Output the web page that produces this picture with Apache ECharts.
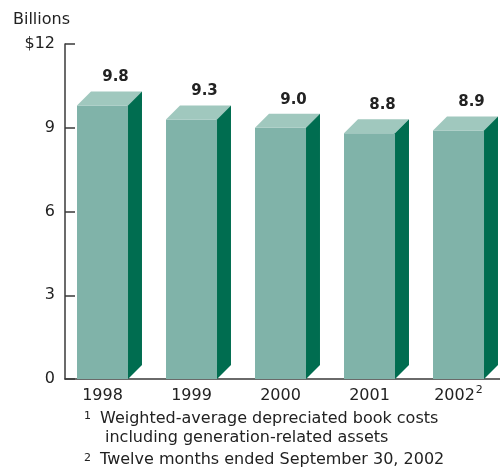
<!DOCTYPE html>
<html>
<head>
<meta charset="utf-8">
<script src="https://cdn.jsdelivr.net/npm/echarts@6/dist/echarts.min.js"></script>
<style>html,body{margin:0;padding:0;background:#fff;}#c{width:500px;height:471px;}</style>
</head>
<body>
<div id="c"></div>
<script>
const categories = ['1998', '1999', '2000', '2001', '2002'];
const values = [9.8, 9.3, 9.0, 8.8, 8.9];
const valueLabels = ['9.8', '9.3', '9.0', '8.8', '8.9'];
const yTicks = [0, 3, 6, 9, 12];

const FONT = '"DejaVu Sans", sans-serif';
const TXT = '#222';
const FRONT = '#80B3A9', TOP = '#A0C8BE', SIDE = '#006D50';

const chart = echarts.init(document.getElementById('c'), null, {renderer: 'canvas'});

const option = {
  animation: false,
  backgroundColor: '#fff',
  grid: {left: 65, top: 44, height: 335, width: 445, containLabel: false, outerBoundsMode: 'none'},
  xAxis: {
    type: 'category',
    data: categories,
    axisLine: {lineStyle: {color: '#3a3a3a', width: 1.5}},
    axisTick: {show: false},
    axisLabel: {
      interval: 0,
      color: TXT, fontFamily: FONT, fontSize: 16, lineHeight: 22, margin: 6,
      padding: [0, 14, 0, 0],
      formatter: function (v) { return v === '2002' ? '2002{sup|2}' : v; },
      rich: {sup: {fontSize: 11, fontFamily: FONT, color: TXT, verticalAlign: 'top', lineHeight: 11, padding: [0, 0, 0, 1]}}
    }
  },
  yAxis: {
    type: 'value', min: yTicks[0], max: yTicks[yTicks.length - 1], interval: 3,
    axisLine: {show: true, lineStyle: {color: '#3a3a3a', width: 1.5}},
    axisTick: {show: true, inside: true, length: 10, lineStyle: {color: '#3a3a3a', width: 1.5}},
    splitLine: {show: false},
    axisLabel: {
      color: TXT, fontFamily: FONT, fontSize: 16, margin: 10,
      formatter: function (v) { return v === 12 ? '$12' : String(v); }
    }
  },
  series: [{
    type: 'custom',
    clip: false,
    data: values.map((v, i) => [i, v]),
    renderItem: function (params, api) {
      const i = api.value(0);
      const c = api.coord([i, api.value(1)]);
      const b = api.coord([i, 0]);
      const band = api.size([1, 0])[0];
      const cx = c[0], top = c[1], base = b[1];
      const fw = band * 0.573, d = band * 0.157;
      const x0 = cx - band * 0.365, x1 = x0 + fw;
      return {
        type: 'group',
        children: [
          {type: 'rect', shape: {x: x0, y: top, width: fw, height: base - top}, style: {fill: FRONT}},
          {type: 'polygon', shape: {points: [[x0, top], [x1, top], [x1 + d, top - d], [x0 + d, top - d]]}, style: {fill: TOP}},
          {type: 'polygon', shape: {points: [[x1, top], [x1 + d, top - d], [x1 + d, base - d], [x1, base]]}, style: {fill: SIDE}},
          {type: 'text', style: {text: valueLabels[params.dataIndex], x: cx + 6, y: top - 28, align: 'center', verticalAlign: 'middle', font: 'bold 15px ' + FONT, fill: TXT}}
        ]
      };
    }
  }],
  graphic: [
    {type: 'text', left: 13, top: 12, style: {text: 'Billions', font: '16px ' + FONT, fill: TXT}},
    {type: 'text', x: 84, y: 416, style: {text: '1', font: '11px ' + FONT, fill: TXT, verticalAlign: 'middle'}},
    {type: 'text', x: 100, y: 419, style: {text: 'Weighted-average depreciated book costs', font: '16px ' + FONT, fill: TXT, verticalAlign: 'middle'}},
    {type: 'text', x: 105, y: 438, style: {text: 'including generation-related assets', font: '16px ' + FONT, fill: TXT, verticalAlign: 'middle'}},
    {type: 'text', x: 84, y: 458, style: {text: '2', font: '11px ' + FONT, fill: TXT, verticalAlign: 'middle'}},
    {type: 'text', x: 100, y: 460, style: {text: 'Twelve months ended September 30, 2002', font: '16px ' + FONT, fill: TXT, verticalAlign: 'middle'}}
  ]
};
chart.setOption(option);
</script>
</body>
</html>
